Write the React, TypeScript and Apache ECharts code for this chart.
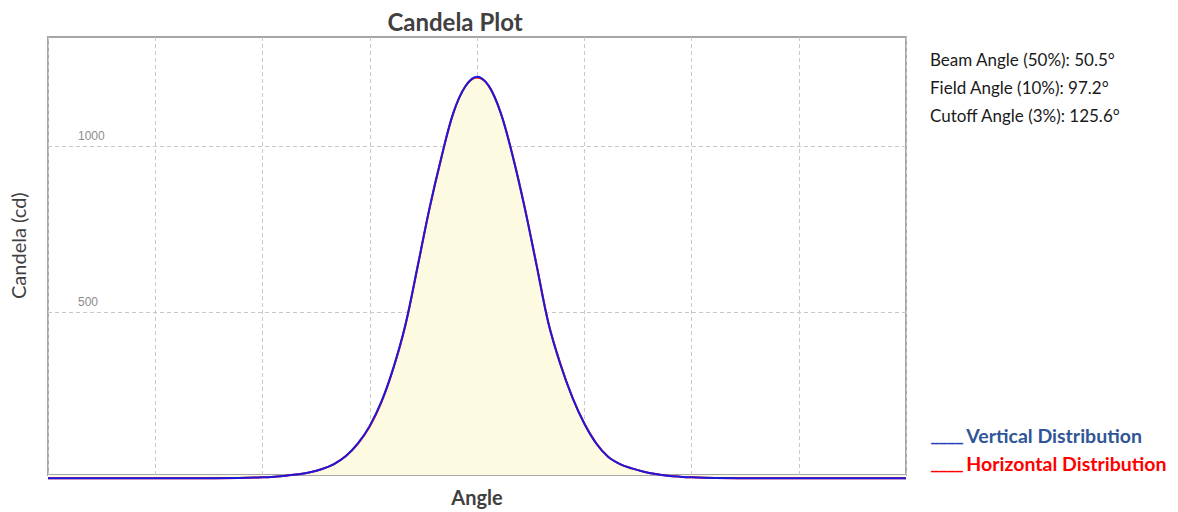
import React, { useEffect, useRef } from "react";
import * as echarts from "echarts";

const angles = [-180, -150, -120, -100, -90, -85, -80, -75, -70, -65, -60, -55, -50, -45, -40, -35, -30, -25, -20, -15, -10, -5, 0, 5, 10, 15, 20, 25, 30, 35, 40, 45, 50, 55, 60, 65, 70, 75, 80, 85, 90, 100, 120, 150, 180];
const verticalValues = [0, 0, 0, 1, 3, 5, 8, 12, 18, 28, 43, 67, 105, 158, 233, 335, 464, 636, 812, 966, 1100, 1180, 1210, 1182, 1100, 970, 815, 641, 466, 343, 244, 165, 105, 65, 43, 30, 20, 13, 8, 5, 3, 1, 0, 0, 0];
const horizontalValues = [0, 0, 0, 1, 3, 5, 8, 12, 18, 28, 43, 67, 104, 156, 231, 333, 462, 634, 810, 964, 1099, 1180, 1208, 1182, 1101, 972, 818, 644, 468, 345, 245, 166, 106, 65, 43, 30, 20, 13, 8, 5, 3, 1, 0, 0, 0];
const yTicks = [0, 500, 1000];
const infoLines = ["Beam Angle (50%): 50.5°", "Field Angle (10%): 97.2°", "Cutoff Angle (3%): 125.6°"];
const legendItems = [
  { name: "Vertical Distribution", lineColor: "#1f3fbf", textColor: "#2f5597" },
  { name: "Horizontal Distribution", lineColor: "#ff0000", textColor: "#ff0000" },
];

const FONT = "Lato, 'Open Sans', sans-serif";

export default function App() {
  const ref = useRef<HTMLDivElement>(null);
  useEffect(() => {
    document.body.style.margin = "0";
    if (!ref.current) return;
    const chart = echarts.init(ref.current, undefined, { renderer: "svg" });
    const vData = angles.map((a, i) => [a, verticalValues[i]]);
    const hData = angles.map((a, i) => [a, horizontalValues[i]]);
    const plotLeft = 48;
    const plotWidth = 858;
    const graphics: any[] = [];
    infoLines.forEach((t, i) => {
      graphics.push({
        type: "text",
        left: 930,
        top: 51 + i * 28,
        style: { text: t, fill: "#1a1a1a", font: `17px ${FONT}` },
      });
    });
    legendItems.forEach((it, i) => {
      graphics.push({
        type: "text",
        left: 931,
        top: 425 + i * 28,
        style: {
          text: `{l|____} {t|${it.name}}`,
          rich: {
            l: { fill: it.lineColor, font: `bold 16px 'DejaVu Sans', sans-serif` },
            t: { fill: it.textColor, font: `bold 19.5px ${FONT}` },
          },
        },
      });
    });
    chart.setOption({
      animation: false,
      backgroundColor: "#ffffff",
      title: {
        text: "Candela Plot",
        left: 450,
        textAlign: "center",
        top: 4,
        textStyle: { fontFamily: FONT, fontWeight: "bold", fontSize: 24, color: "#404040" },
      },
      grid: [
        {
          left: plotLeft,
          top: 37,
          width: plotWidth,
          height: 438,
          show: true,
          borderColor: "#a6a6a6",
          borderWidth: 2,
          backgroundColor: "transparent",
          outerBoundsMode: "none",
          containLabel: false,
        },
        {
          left: plotLeft,
          top: 37,
          width: plotWidth,
          height: 441.3,
          outerBoundsMode: "none",
          containLabel: false,
        },
      ],
      xAxis: [
        {
          gridIndex: 0,
          type: "value",
          min: -180,
          max: 180,
          interval: 45,
          axisLine: { show: false },
          axisTick: { show: false },
          axisLabel: { show: false },
          splitLine: { show: true, lineStyle: { color: "#c8c8c8", type: [4, 3], width: 1 } },
          name: "Angle",
          nameLocation: "middle",
          nameGap: 12,
          nameTextStyle: { fontFamily: FONT, fontWeight: "bold", fontSize: 20, color: "#404040" },
        },
        {
          gridIndex: 1,
          type: "value",
          min: -180,
          max: 180,
          show: false,
        },
      ],
      yAxis: [
        {
          gridIndex: 0,
          type: "value",
          min: 0,
          max: 1,
          show: false,
        },
        {
          gridIndex: 1,
          type: "value",
          min: yTicks[0],
          max: 1330,
          interval: yTicks[1] - yTicks[0],
          axisLine: { show: false },
          axisTick: { show: false },
          axisLabel: {
            inside: true,
            margin: 30,
            color: "#8c8c8c",
            fontSize: 12,
            fontFamily: "'Liberation Sans', Arial, sans-serif",
            verticalAlign: "bottom",
            padding: [0, 0, 4, 0],
            showMinLabel: false,
            showMaxLabel: false,
            formatter: (v: number) => String(v),
          },
          splitLine: {
            show: true,
            showMinLine: false,
            showMaxLine: false,
            lineStyle: { color: "#c8c8c8", type: [4, 3], width: 1 },
          },
          name: "Candela (cd)",
          nameLocation: "middle",
          nameGap: 20,
          nameRotate: 90,
          nameTextStyle: { fontFamily: FONT, fontSize: 20, color: "#404040", padding: [0, 0, 0, 24] },
        },
      ],
      series: [
        {
          name: "Horizontal Distribution",
          type: "line",
          xAxisIndex: 1,
          yAxisIndex: 1,
          data: hData,
          smooth: 0.35,
          showSymbol: false,
          clip: false,
          lineStyle: { color: "#ff0000", width: 2 },
          areaStyle: { color: "#fcfae1", opacity: 1, origin: 10 },
          z: 2,
        },
        {
          name: "Vertical Distribution",
          type: "line",
          xAxisIndex: 1,
          yAxisIndex: 1,
          data: vData,
          smooth: 0.35,
          showSymbol: false,
          clip: false,
          lineStyle: { color: "#1a1adf", width: 2 },
          z: 3,
        },
      ],
      graphic: graphics,
    });
    return () => chart.dispose();
  }, []);
  return <div ref={ref} style={{ width: 1178, height: 512 }} />;
}
